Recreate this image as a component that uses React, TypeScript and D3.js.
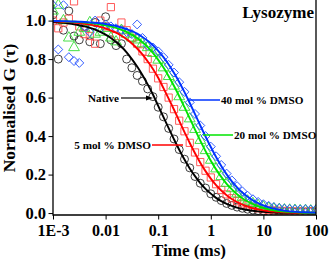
import React, { useEffect, useRef } from 'react';
import * as d3 from 'd3';

// lag times (ms), shared by all four curves
const tau = [
  0.001, 0.00126, 0.00158, 0.002, 0.00251, 0.00316, 0.00398, 0.00501, 0.00631, 0.00794,
  0.01, 0.0126, 0.0158, 0.02, 0.0251, 0.0316, 0.0398, 0.0501, 0.0631, 0.0794,
  0.1, 0.126, 0.158, 0.2, 0.251, 0.316, 0.398, 0.501, 0.631, 0.794,
  1, 1.26, 1.58, 2, 2.51, 3.16, 3.98, 5.01, 6.31, 7.94,
  10, 12.6, 15.8, 20, 25.1, 31.6, 39.8, 50.1, 63.1, 79.4, 100,
];

// measured points
const gNative = [
  1.03, 0.8, 0.95, 1.05, 0.92, 0.9, 0.97, 0.89, 0.99, 0.88,
  1.02, 0.9, 0.87, 0.88, 0.8, 0.755, 0.715, 0.685, 0.645, 0.605,
  0.55, 0.5, 0.44, 0.385, 0.33, 0.28, 0.235, 0.19, 0.155, 0.13,
  0.1, 0.082, 0.065, 0.05, 0.04, 0.031, 0.025, 0.02, 0.016, 0.013,
  0.011, 0.009, 0.008, 0.007, 0.006, 0.007, 0.005, 0.006, 0.005, 0.006, 0.005,
];
const g5 = [
  1.0, 0.96, 0.99, 1.01, 1.1, 0.97, 0.93, 0.92, 0.88, 1.0,
  0.97, 1.07, 0.92, 0.99, 0.95, 0.91, 0.88, 0.84, 0.8, 0.75,
  0.7, 0.655, 0.6, 0.54, 0.48, 0.425, 0.365, 0.315, 0.265, 0.22,
  0.185, 0.15, 0.12, 0.097, 0.077, 0.062, 0.05, 0.04, 0.032, 0.025,
  0.02, 0.017, 0.014, 0.012, 0.011, 0.01, 0.009, 0.009, 0.008, 0.01, 0.009,
];
const g20 = [
  1.05, 1.08, 1.0, 0.91, 0.86, 0.94, 0.96, 0.99, 0.93, 0.94,
  0.96, 0.91, 0.89, 0.95, 0.93, 0.91, 0.9, 0.88, 0.86, 0.83,
  0.795, 0.755, 0.71, 0.66, 0.605, 0.55, 0.49, 0.435, 0.378, 0.325,
  0.275, 0.23, 0.19, 0.155, 0.127, 0.1, 0.08, 0.063, 0.05, 0.04,
  0.032, 0.026, 0.022, 0.019, 0.017, 0.016, 0.015, 0.013, 0.014, 0.012, 0.013,
];
const g40 = [
  1.08, 0.85, 1.08, 0.81, 0.79, 0.78, 0.97, 0.94, 1.0, 0.96,
  0.98, 0.97, 0.96, 0.95, 0.94, 0.93, 0.98, 0.91, 0.87, 0.86,
  0.84, 0.81, 0.77, 0.73, 0.68, 0.63, 0.575, 0.515, 0.455, 0.4,
  0.345, 0.295, 0.25, 0.205, 0.17, 0.14, 0.113, 0.09, 0.072, 0.058,
  0.046, 0.037, 0.031, 0.026, 0.023, 0.021, 0.02, 0.019, 0.02, 0.018, 0.019,
];

// fitted curves
const fitNative = [
  0.992, 0.99, 0.988, 0.985, 0.981, 0.976, 0.97, 0.962, 0.953, 0.941,
  0.927, 0.91, 0.889, 0.864, 0.835, 0.8, 0.761, 0.717, 0.668, 0.616,
  0.557, 0.498, 0.441, 0.383, 0.329, 0.278, 0.232, 0.192, 0.156, 0.126,
  0.101, 0.079, 0.062, 0.048, 0.037, 0.028, 0.021, 0.016, 0.012, 0.009,
  0.006, 0.005, 0.003, 0.002, 0.002, 0.001, 0.001, 0.001, 0, 0, 0,
];
const fit5 = [
  0.996, 0.995, 0.993, 0.992, 0.99, 0.987, 0.983, 0.979, 0.974, 0.967,
  0.959, 0.948, 0.937, 0.921, 0.903, 0.881, 0.855, 0.824, 0.788, 0.749,
  0.703, 0.649, 0.595, 0.537, 0.479, 0.421, 0.364, 0.311, 0.262, 0.218,
  0.179, 0.145, 0.117, 0.093, 0.073, 0.057, 0.044, 0.034, 0.025, 0.019,
  0.014, 0.01, 0.008, 0.006, 0.004, 0.003, 0.002, 0.001, 0.001, 0.001, 0,
];
const fit20 = [
  0.998, 0.997, 0.996, 0.995, 0.994, 0.992, 0.99, 0.988, 0.984, 0.98,
  0.975, 0.969, 0.962, 0.952, 0.941, 0.926, 0.909, 0.888, 0.863, 0.832,
  0.796, 0.756, 0.711, 0.66, 0.607, 0.55, 0.492, 0.434, 0.376, 0.322,
  0.272, 0.227, 0.188, 0.152, 0.123, 0.098, 0.077, 0.06, 0.047, 0.036,
  0.027, 0.02, 0.015, 0.011, 0.008, 0.006, 0.005, 0.003, 0.002, 0.002, 0.001,
];
const fit40 = [
  0.998, 0.998, 0.997, 0.996, 0.995, 0.994, 0.993, 0.991, 0.989, 0.986,
  0.982, 0.977, 0.972, 0.964, 0.956, 0.945, 0.932, 0.915, 0.895, 0.872,
  0.843, 0.81, 0.772, 0.728, 0.681, 0.628, 0.572, 0.514, 0.455, 0.398,
  0.343, 0.291, 0.245, 0.201, 0.165, 0.134, 0.107, 0.085, 0.066, 0.052,
  0.04, 0.03, 0.023, 0.017, 0.013, 0.009, 0.007, 0.005, 0.004, 0.003, 0.002,
];

const xTickValues = [0.001, 0.01, 0.1, 1, 10, 100];
const xTickLabels = ['1E-3', '0.01', '0.1', '1', '10', '100'];
const yTickValues = [0, 0.2, 0.4, 0.6, 0.8, 1.0];

const W = 331;
const H = 259;
const FONT = "'Liberation Serif', 'Times New Roman', serif";

const App = () => {
  const ref = useRef<SVGSVGElement>(null);

  useEffect(() => {
    const svg = d3.select(ref.current);
    svg.selectAll('*').remove();

    const left = 53, right = 316, top = 0, bottom = 215;

    const x = d3.scaleLog().domain([0.001, 100]).range([left, right]);
    const y = d3.scaleLinear().domain([-0.01, 1.107]).range([bottom, top]);

    svg.append('defs').append('clipPath').attr('id', 'plot')
      .append('rect').attr('x', left).attr('y', top)
      .attr('width', right - left).attr('height', bottom - top);

    const series = [
      { data: gNative, fit: fitNative, color: '#000000', mark: '#2a2a2a', shape: 'circle' },
      { data: g5, fit: fit5, color: '#ff0000', mark: '#ff4a4a', shape: 'square' },
      { data: g20, fit: fit20, color: '#00e400', mark: '#33dd33', shape: 'triangle' },
      { data: g40, fit: fit40, color: '#0033ff', mark: '#2a55ff', shape: 'diamond' },
    ];

    const plot = svg.append('g').attr('clip-path', 'url(#plot)');

    const symbols: Record<string, d3.SymbolType> = {
      circle: d3.symbolCircle,
      square: d3.symbolSquare,
      triangle: d3.symbolTriangle,
      diamond: d3.symbolSquare,
    };
    const sizes: Record<string, number> = { circle: 50, square: 52, triangle: 50, diamond: 40 };

    // markers
    series.forEach((s) => {
      const sym = d3.symbol().type(symbols[s.shape]).size(sizes[s.shape]);
      plot.append('g')
        .selectAll('path')
        .data(s.data)
        .join('path')
        .attr('d', sym)
        .attr('transform', (d, i) =>
          `translate(${x(tau[i])},${y(d)})` + (s.shape === 'diamond' ? ' rotate(45)' : ''))
        .attr('fill', 'none')
        .attr('stroke', s.mark)
        .attr('stroke-width', 0.9);
    });

    // fit lines
    const line = d3.line<number>()
      .x((d, i) => x(tau[i]))
      .y((d) => y(d))
      .curve(d3.curveMonotoneX);
    series.forEach((s) => {
      plot.append('path')
        .attr('d', line(s.fit))
        .attr('fill', 'none')
        .attr('stroke', s.color)
        .attr('stroke-width', 1.9);
    });

    // frame
    svg.append('path')
      .attr('d', `M${left},${top}V${bottom}H${right}V${top}`)
      .attr('fill', 'none')
      .attr('stroke', '#000')
      .attr('stroke-width', 1.3);

    // x axis
    const xMinor: number[] = [];
    [0.001, 0.01, 0.1, 1, 10].forEach((dec) => {
      for (let k = 2; k <= 9; k++) xMinor.push(dec * k);
    });
    const xAxis = svg.append('g').attr('transform', `translate(0,${bottom})`);
    xAxis.call(d3.axisBottom(x).tickValues(xMinor).tickSize(2.5).tickFormat(() => ''));
    xAxis.call(
      d3.axisBottom(x).tickValues(xTickValues).tickSize(4.5)
        .tickFormat((d, i) => xTickLabels[i]),
    );
    xAxis.select('.domain').remove();
    xAxis.selectAll('line').attr('stroke', '#000').attr('stroke-width', 1);
    xAxis.selectAll('text')
      .attr('font-family', FONT)
      .attr('font-weight', 'bold')
      .attr('font-size', 16)
      .attr('fill', '#000')
      .attr('y', 20.5)
      .attr('dy', 0);

    // y axis
    const yMinor = [0.1, 0.3, 0.5, 0.7, 0.9];
    const yAxis = svg.append('g').attr('transform', `translate(${left},0)`);
    yAxis.call(d3.axisLeft(y).tickValues(yMinor).tickSize(2.5).tickFormat(() => ''));
    yAxis.call(
      d3.axisLeft(y).tickValues(yTickValues).tickSize(4.5)
        .tickFormat((d) => d3.format('.1f')(d as number)),
    );
    yAxis.select('.domain').remove();
    yAxis.selectAll('line').attr('stroke', '#000').attr('stroke-width', 1);
    yAxis.selectAll('text')
      .attr('font-family', FONT)
      .attr('font-weight', 'bold')
      .attr('font-size', 16.5)
      .attr('fill', '#000')
      .attr('x', -7);

    // axis titles
    svg.append('text')
      .attr('x', 189).attr('y', 255.5)
      .attr('text-anchor', 'middle')
      .attr('font-family', FONT).attr('font-weight', 'bold').attr('font-size', 17)
      .text('Time (ms)');
    svg.append('text')
      .attr('transform', 'translate(15,108) rotate(-90)')
      .attr('text-anchor', 'middle')
      .attr('font-family', FONT).attr('font-weight', 'bold').attr('font-size', 17.5)
      .text('Normalised G (τ)');

    // protein label
    svg.append('text')
      .attr('x', 314).attr('y', 18)
      .attr('text-anchor', 'end')
      .attr('font-family', FONT).attr('font-weight', 'bold').attr('font-size', 17)
      .text('Lysozyme');

    // annotations
    const ann = svg.append('g')
      .attr('font-family', FONT).attr('font-weight', 'bold').attr('font-size', 11.2);

    ann.append('text').attr('x', 88).attr('y', 102).text('Native');
    ann.append('line').attr('x1', 121).attr('y1', 98).attr('x2', 148).attr('y2', 98)
      .attr('stroke', '#000').attr('stroke-width', 1.2);
    ann.append('path').attr('d', 'M153,98 L146,95.5 L146,100.5 Z').attr('fill', '#000');

    ann.append('line').attr('x1', 188).attr('y1', 100).attr('x2', 220).attr('y2', 100)
      .attr('stroke', '#0033ff').attr('stroke-width', 1.5);
    ann.append('text').attr('x', 221).attr('y', 104).text('40 mol % DMSO');

    ann.append('line').attr('x1', 203).attr('y1', 135).attr('x2', 233).attr('y2', 135)
      .attr('stroke', '#00e400').attr('stroke-width', 1.5);
    ann.append('text').attr('x', 234).attr('y', 139).text('20 mol % DMSO');

    ann.append('text').attr('x', 151).attr('y', 149).attr('text-anchor', 'end').text('5 mol % DMSO');
    ann.append('line').attr('x1', 152).attr('y1', 145).attr('x2', 183).attr('y2', 145)
      .attr('stroke', '#ff0000').attr('stroke-width', 1.5);
  }, []);

  return (
    <div style={{ position: 'fixed', left: 0, top: 0, width: W, height: H, background: '#fff' }}>
      <svg ref={ref} width={W} height={H} />
    </div>
  );
};

export default App;
